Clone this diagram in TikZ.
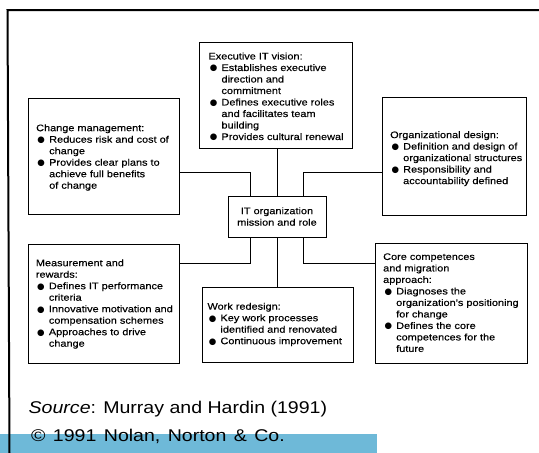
\documentclass[tikz,border=0pt]{standalone}
\usepackage{fontspec}
\setmainfont[FakeStretch=1.15,FakeBold=0.3]{Liberation Sans}
\newfontfamily\srcfont[FakeStretch=1.15]{Liberation Sans}
\newfontfamily\bulletfont{DejaVu Sans}
\definecolor{barblue}{RGB}{110,185,216}
\newcommand\bitem{\hspace*{1.3pt}\makebox[11.7pt][l]{{\bulletfont\fontsize{8.6}{8.6}\selectfont ●}}}
\newcommand\cont{\hspace*{13pt}}
\tikzset{
  box/.style={draw, line width=0.9pt, inner sep=0pt},
  txt/.style={anchor=north west, inner sep=0pt, align=left, font=\fontsize{9.5}{11.5}\selectfont},
  conn/.style={line width=0.9pt},
  srctxt/.style={anchor=base west, inner sep=0pt, font=\srcfont\fontsize{17}{20}\selectfont},
}
\begin{document}
\begin{tikzpicture}[x=1pt,y=-1pt]
\useasboundingbox (0,0) rectangle (539,453);
% blue bar
\fill[barblue] (0,433.5) rectangle (377,453);
% frame
\draw[line width=2pt] (9.5,453) -- (7.5,10) -- (539,10);
% boxes
\node[box, minimum width=153pt, minimum height=106pt] (exec) at (275.5,95) {};
\node[box, minimum width=151pt, minimum height=116pt] (chg) at (103.5,156) {};
\node[box, minimum width=144pt, minimum height=118pt] (org) at (454,156) {};
\node[box, minimum width=98pt, minimum height=41pt, align=center, font=\fontsize{9.5}{11.5}\selectfont] (ctr) at (277,216.5) {IT organization\\mission and role};
\node[box, minimum width=151pt, minimum height=119pt] (meas) at (103.5,303.5) {};
\node[box, minimum width=151pt, minimum height=75pt] (work) at (277.5,324.5) {};
\node[box, minimum width=152pt, minimum height=120pt] (core) at (451,303) {};
% texts
\node[txt] (exec-t) at (208.3,52.4) {Executive IT vision:\\
\bitem Establishes executive\\
\cont direction and\\
\cont commitment\\
\bitem Defines executive roles\\
\cont and facilitates team\\
\cont building\\
\bitem Provides cultural renewal};
\node[txt] (chg-t) at (36,124.1) {Change management:\\
\bitem Reduces risk and cost of\\
\cont change\\
\bitem Provides clear plans to\\
\cont achieve full benefits\\
\cont of change};
\node[txt] (org-t) at (390,131) {Organizational design:\\
\bitem Definition and design of\\
\cont organizational structures\\
\bitem Responsibility and\\
\cont accountability defined};
\node[txt] (meas-t) at (35.7,259.1) {Measurement and\\
rewards:\\
\bitem Defines IT performance\\
\cont criteria\\
\bitem Innovative motivation and\\
\cont compensation schemes\\
\bitem Approaches to drive\\
\cont change};
\node[txt] (work-t) at (207.3,302.6) {Work redesign:\\
\bitem Key work processes\\
\cont identified and renovated\\
\bitem Continuous improvement};
\node[txt] (core-t) at (383,253.1) {Core competences\\
and migration\\
approach:\\
\bitem Diagnoses the\\
\cont organization's positioning\\
\cont for change\\
\bitem Defines the core\\
\cont competences for the\\
\cont future};
% connectors
\draw[conn] (ctr.north |- exec.south) -- (ctr.north);
\draw[conn] (chg.east |- 0,172) -| (ctr.north -| 250,0);
\draw[conn] (org.west |- 0,172) -| (ctr.north -| 303,0);
\draw[conn] (meas.east |- 0,263) -| (ctr.south -| 250,0);
\draw[conn] (core.west |- 0,263) -| (ctr.south -| 303,0);
\draw[conn] (ctr.south) -- (work.north -| ctr.south);
% source
\node[srctxt] (src) at (28.5,413.3) {\textit{Source}: Murray and Hardin (1991)};
\node[srctxt] (copy) at (31,441) {\spaceskip=7.4pt\relax © 1991 Nolan, Norton \& Co.};
\end{tikzpicture}
\end{document}
